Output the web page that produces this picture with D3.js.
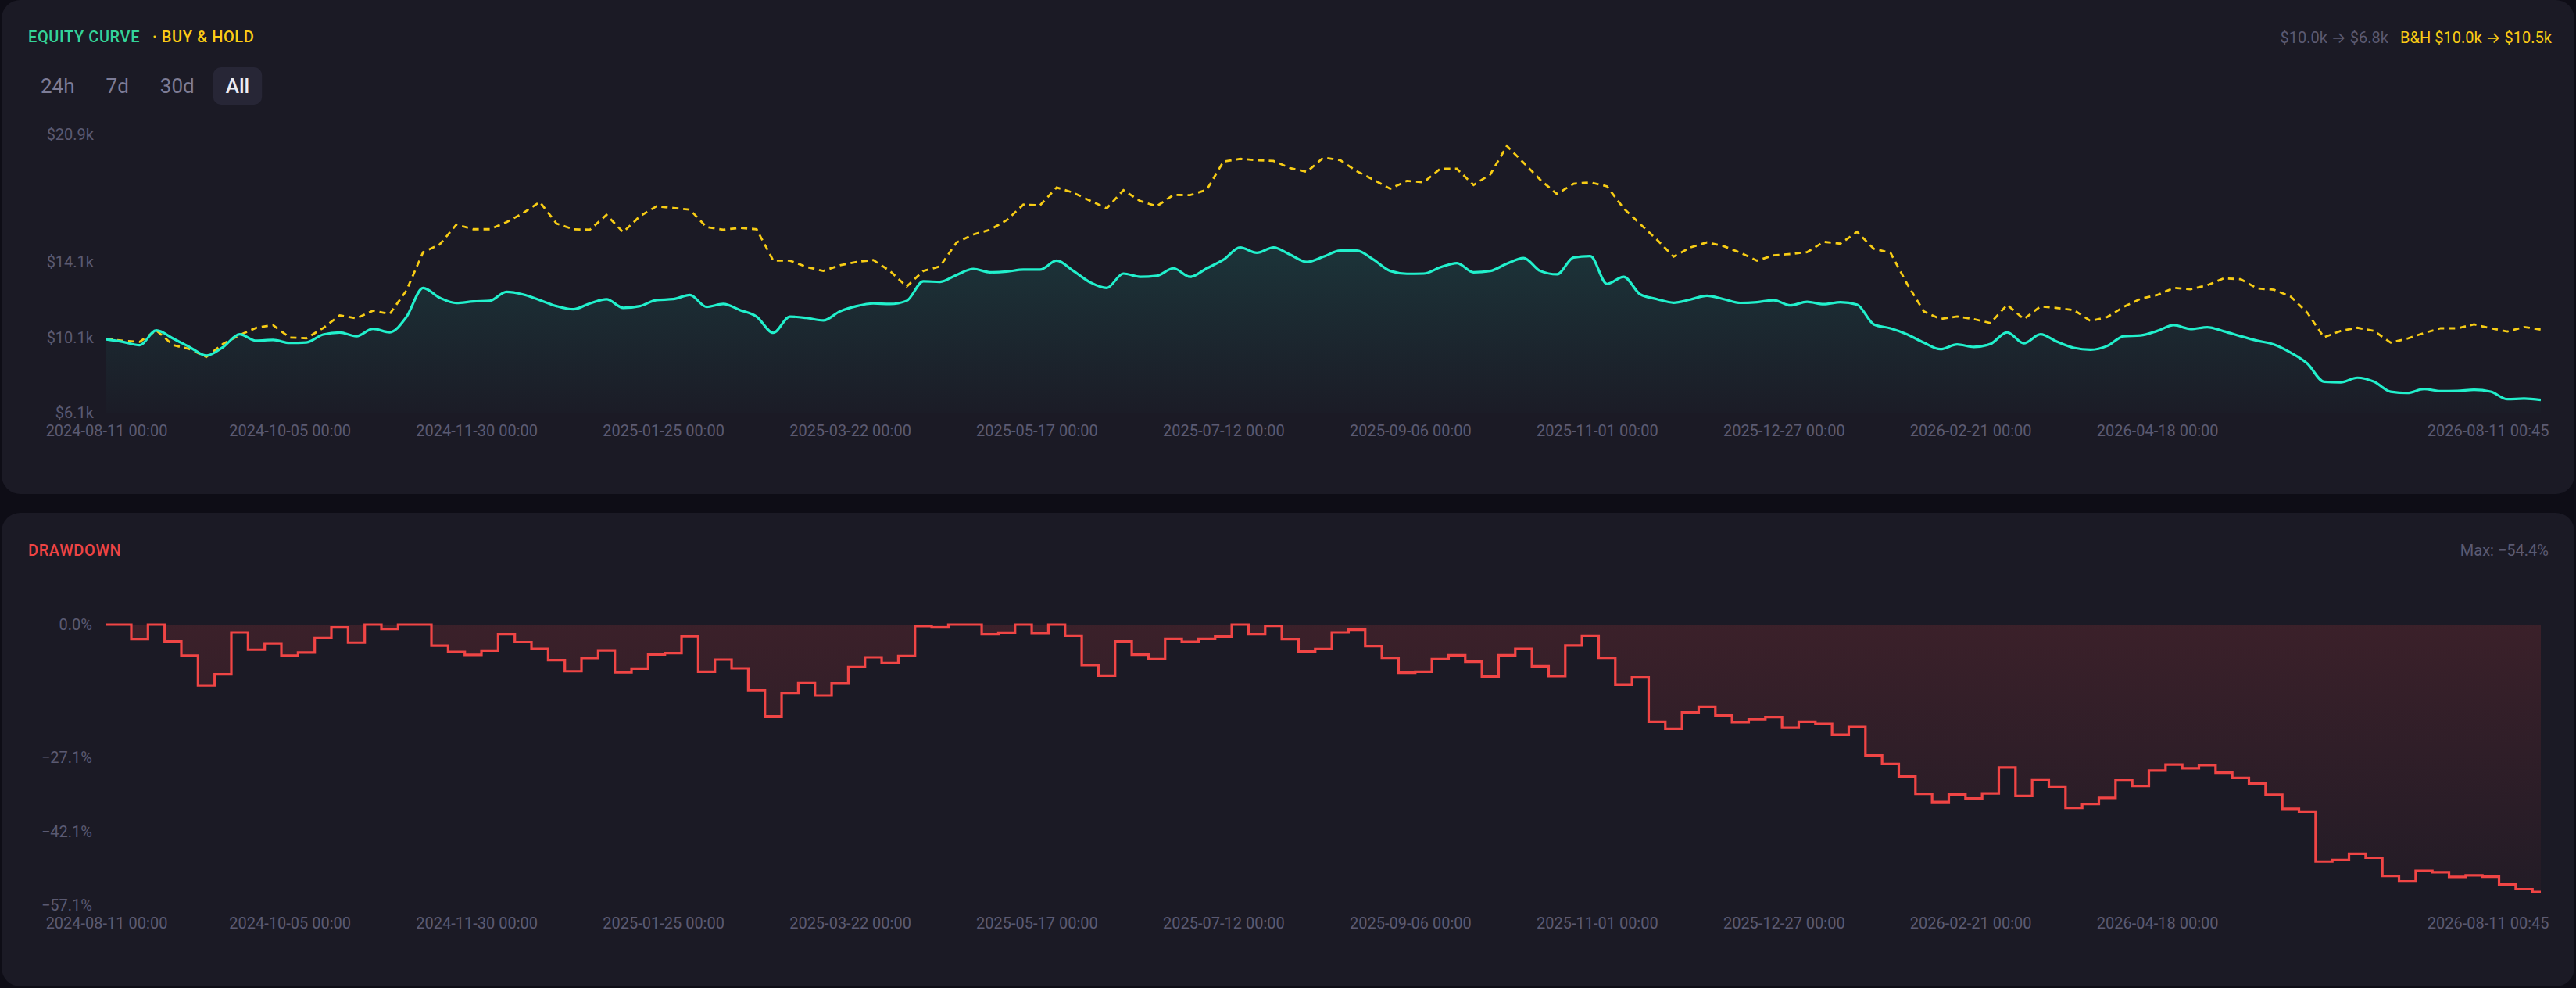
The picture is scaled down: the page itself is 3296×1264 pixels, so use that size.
<!DOCTYPE html>
<html>
<head>
<meta charset="utf-8">
<script src="https://cdn.jsdelivr.net/npm/d3@7"></script>
<style>
  html, body { margin: 0; padding: 0; background: #0e0d16; }
  body { width: 3296px; height: 1264px; overflow: hidden; }
  svg text { font-family: Roboto, "Noto Sans", sans-serif; }
  .tick text { fill: #5b5a72; font-size: 20px; }
  .arrow { font-family: Inter, "DejaVu Sans", sans-serif; }
</style>
</head>
<body>
<svg id="chart"></svg>
<script>
// samples every 5 days from 2024-08-11, last one at 2026-08-11 00:45
const startDate = new Date(2024, 7, 11);
const endDate = new Date(2026, 7, 11, 0, 45);
const stepDays = 5;

// equity in $k
const equity = [
  10.00, 9.87, 9.69, 10.48, 10.05, 9.59, 9.14, 9.59, 10.27, 9.93,
  9.97, 9.81, 9.84, 10.26, 10.37, 10.17, 10.56, 10.38, 11.19, 12.74,
  12.21, 11.93, 12.02, 12.05, 12.53, 12.39, 12.09, 11.77, 11.60, 11.91,
  12.13, 11.68, 11.77, 12.09, 12.14, 12.36, 11.73, 11.88, 11.56, 11.21,
  10.35, 11.21, 11.14, 11.01, 11.49, 11.77, 11.91, 11.88, 12.05, 13.09,
  13.06, 13.43, 13.75, 13.57, 13.61, 13.71, 13.71, 14.19, 13.64, 13.04,
  12.74, 13.50, 13.33, 13.38, 13.78, 13.33, 13.78, 14.24, 14.89, 14.61,
  14.89, 14.51, 14.12, 14.40, 14.72, 14.72, 14.24, 13.64, 13.49, 13.50,
  13.83, 14.06, 13.57, 13.64, 14.03, 14.33, 13.64, 13.46, 14.36, 14.43,
  12.95, 13.33, 12.39, 12.14, 11.95, 12.12, 12.32, 12.14, 11.94, 11.98,
  12.08, 11.81, 12.00, 11.87, 11.98, 11.85, 10.80, 10.59, 10.27, 9.83,
  9.48, 9.73, 9.60, 9.76, 10.38, 9.79, 10.27, 9.87, 9.55, 9.45,
  9.65, 10.17, 10.21, 10.45, 10.76, 10.55, 10.65, 10.43, 10.17, 9.93,
  9.73, 9.30, 8.72, 7.75, 7.72, 7.96, 7.75, 7.22, 7.15, 7.36,
  7.25, 7.26, 7.32, 7.22, 6.82, 6.85, 6.78
];

// buy & hold in $k
const buyHold = [
  10.03, 9.93, 9.87, 10.48, 9.70, 9.48, 9.07, 9.76, 10.23, 10.62,
  10.76, 10.10, 10.06, 10.60, 11.28, 11.12, 11.53, 11.35, 12.60, 14.64,
  15.05, 16.11, 15.86, 15.86, 16.23, 16.72, 17.31, 16.16, 15.86, 15.83,
  16.62, 15.70, 16.55, 17.08, 16.99, 16.90, 15.97, 15.83, 15.93, 15.86,
  14.19, 14.19, 13.85, 13.64, 13.94, 14.12, 14.22, 13.64, 12.81, 13.64,
  13.88, 15.16, 15.58, 15.83, 16.34, 17.17, 17.13, 18.08, 17.80, 17.38,
  16.97, 17.94, 17.36, 17.08, 17.69, 17.67, 17.96, 19.46, 19.60, 19.53,
  19.49, 19.11, 18.91, 19.67, 19.53, 18.94, 18.49, 18.01, 18.43, 18.35,
  19.07, 19.07, 18.21, 18.77, 20.29, 19.39, 18.49, 17.73, 18.28, 18.35,
  18.14, 16.97, 16.13, 15.30, 14.40, 14.89, 15.16, 14.96, 14.61, 14.19,
  14.47, 14.54, 14.64, 15.19, 15.09, 15.72, 14.82, 14.61, 12.95, 11.49,
  11.08, 11.22, 11.08, 10.87, 11.84, 11.08, 11.75, 11.67, 11.56, 10.98,
  11.19, 11.73, 12.16, 12.36, 12.74, 12.67, 12.88, 13.25, 13.20, 12.71,
  12.64, 12.28, 11.42, 10.11, 10.45, 10.62, 10.45, 9.83, 10.04, 10.34,
  10.59, 10.59, 10.80, 10.59, 10.42, 10.66, 10.52
];

// drawdown in %
const drawdown = [
  0, 0, -2.96, 0, -3.45, -6.32, -12.42, -10.12, -1.59, -5.13,
  -3.83, -6.32, -5.70, -2.77, -0.59, -3.70, 0, -0.90, 0, 0,
  -4.33, -5.57, -6.19, -5.32, -2.02, -3.58, -4.95, -7.25, -9.50, -6.82,
  -5.26, -9.72, -8.96, -6.10, -5.83, -2.39, -9.60, -7.16, -8.91, -13.4,
  -18.72, -13.94, -11.82, -14.47, -11.93, -8.64, -6.68, -7.85, -6.42, -0.32,
  -0.58, 0, 0, -2.01, -1.64, 0, -1.75, 0, -2.28, -8.27,
  -10.39, -3.45, -6.15, -7.05, -2.92, -3.50, -2.92, -2.44, 0, -2.01,
  -0.27, -2.97, -5.46, -5.0, -1.59, -1.06, -4.40, -6.78, -9.81, -9.60,
  -7.05, -6.26, -7.58, -10.60, -6.26, -4.93, -8.48, -10.50, -4.29, -2.28,
  -6.78, -12.25, -10.76, -19.78, -21.21, -17.92, -16.75, -18.50, -19.88, -19.25,
  -18.87, -21.00, -19.78, -20.20, -22.43, -20.84, -26.67, -28.37, -30.91, -34.46,
  -36.11, -34.62, -35.42, -34.36, -29.10, -34.89, -31.56, -32.97, -37.33, -36.52,
  -35.28, -31.60, -32.85, -29.73, -28.49, -29.24, -28.61, -30.17, -31.23, -32.35,
  -34.66, -37.52, -38.08, -48.23, -47.92, -46.67, -47.48, -51.15, -52.28, -50.10,
  -50.41, -51.34, -51.04, -51.30, -52.90, -53.84, -54.40
];

const xTickLabels = [
  '2024-08-11 00:00', '2024-10-05 00:00', '2024-11-30 00:00', '2025-01-25 00:00',
  '2025-03-22 00:00', '2025-05-17 00:00', '2025-07-12 00:00', '2025-09-06 00:00',
  '2025-11-01 00:00', '2025-12-27 00:00', '2026-02-21 00:00', '2026-04-18 00:00',
  '2026-08-11 00:45'
];
const equityTicks = [6.1, 10.1, 14.1, 20.9];
const drawdownTicks = [0, -27.1, -42.1, -57.1];
const rangeButtons = ['24h', '7d', '30d', 'All'];

const W = 3296, H = 1264;
const plot = { left: 136, right: 3251 };
const eqBox = { top: 172, bottom: 528 };
const ddBox = { top: 799, bottom: 1158 };

const parseLabel = d3.timeParse('%Y-%m-%d %H:%M');
const fmtLabel = d3.timeFormat('%Y-%m-%d %H:%M');
const fmtK = v => '$' + d3.format('.1f')(v) + 'k';

const dates = equity.map((v, i) =>
  i === equity.length - 1 ? endDate : d3.timeDay.offset(startDate, i * stepDays));

const svg = d3.select('#chart').attr('width', W).attr('height', H);

// panels
svg.append('rect').attr('x', 2).attr('y', 0).attr('width', W - 4).attr('height', 632)
   .attr('rx', 24).attr('fill', '#1b1a25');
svg.append('rect').attr('x', 2).attr('y', 656).attr('width', W - 4).attr('height', 606)
   .attr('rx', 24).attr('fill', '#1b1a25');

const defs = svg.append('defs');

const x = d3.scaleTime().domain([startDate, endDate]).range([plot.left, plot.right]);
const yEq = d3.scaleLinear().domain([6.1, 20.9]).range([eqBox.bottom, eqBox.top]);
const yDd = d3.scaleLinear().domain([-57.1, 0]).range([ddBox.bottom, ddBox.top]);

// ---------- equity panel ----------
svg.append('text').attr('x', 36).attr('y', 54)
   .attr('font-size', 20).attr('font-weight', 500).attr('letter-spacing', 0.6)
   .attr('fill', '#34d399').text('EQUITY CURVE');
svg.append('text').attr('x', 195).attr('y', 54)
   .attr('font-size', 20).attr('font-weight', 500).attr('letter-spacing', 0.6)
   .attr('fill', '#facc15').text('· BUY & HOLD');

// start -> end summaries, arrow in a font that draws it full size
function summary(xPos, prefix, from, to, color) {
    var t = svg.append('text').attr('x', xPos).attr('y', 55).attr('text-anchor', 'end')
               .attr('font-size', 20).attr('fill', color);
    t.append('tspan').text(prefix + fmtK(from) + ' ');
    t.append('tspan').attr('class', 'arrow').text('→');
    t.append('tspan').text(' ' + fmtK(to));
}
summary(3265, 'B&H ', buyHold[0], buyHold[buyHold.length - 1], '#facc15');
summary(3056, '', equity[0], equity[equity.length - 1], '#5b5a72');

// range buttons
var bx = 36;
rangeButtons.forEach(function(label, i) {
    var active = i === rangeButtons.length - 1;
    var g = svg.append('g');
    var bg = g.append('rect');
    var t = g.append('text').attr('y', 118.5).attr('font-size', 26)
             .attr('font-weight', active ? 500 : 400)
             .attr('fill', active ? '#ececf4' : '#7d7c96').text(label);
    var w = t.node().getComputedTextLength() + 32;
    t.attr('x', bx + 16);
    bg.attr('x', bx).attr('y', 86).attr('width', w).attr('height', 48).attr('rx', 10)
      .attr('fill', active ? '#272636' : 'none');
    bx += w + 8;
});

const eqGrad = defs.append('linearGradient').attr('id', 'eqFill')
    .attr('gradientUnits', 'userSpaceOnUse')
    .attr('x1', 0).attr('x2', 0).attr('y1', yEq(15)).attr('y2', eqBox.bottom);
eqGrad.append('stop').attr('offset', 0).attr('stop-color', '#22f0cc').attr('stop-opacity', 0.12);
eqGrad.append('stop').attr('offset', 1).attr('stop-color', '#22f0cc').attr('stop-opacity', 0.01);

const eqArea = d3.area().curve(d3.curveMonotoneX)
    .x((d, i) => x(dates[i])).y0(eqBox.bottom).y1(d => yEq(d));
const eqLine = d3.line().curve(d3.curveMonotoneX)
    .x((d, i) => x(dates[i])).y(d => yEq(d));
const bhLine = d3.line()
    .x((d, i) => x(dates[i])).y(d => yEq(d));

svg.append('path').attr('d', eqArea(equity)).attr('fill', 'url(#eqFill)');
svg.append('path').attr('d', bhLine(buyHold)).attr('fill', 'none')
   .attr('stroke', '#f7cc15').attr('stroke-width', 2.8).attr('stroke-dasharray', '8 6');
svg.append('path').attr('d', eqLine(equity)).attr('fill', 'none')
   .attr('stroke', '#22f0cc').attr('stroke-width', 3.2).attr('stroke-linejoin', 'round');

svg.append('g').attr('transform', `translate(${plot.left},0)`)
   .call(d3.axisLeft(yEq).tickValues(equityTicks).tickSize(0).tickPadding(16)
           .tickFormat(fmtK))
   .call(g => g.select('.domain').remove());

function xAxis(g) {
    g.call(d3.axisBottom(x).tickValues(xTickLabels.map(parseLabel))
             .tickSize(0).tickPadding(16).tickFormat(fmtLabel))
     .call(g => g.select('.domain').remove());
    g.selectAll('.tick text').filter((d, i) => i === xTickLabels.length - 1)
     .attr('text-anchor', 'end').attr('x', 10);
}

svg.append('g').attr('transform', `translate(0,${eqBox.bottom})`).call(xAxis);

// ---------- drawdown panel ----------
svg.append('text').attr('x', 36).attr('y', 711)
   .attr('font-size', 20).attr('font-weight', 500).attr('letter-spacing', 0.6)
   .attr('fill', '#ef4444').text('DRAWDOWN');
svg.append('text').attr('x', 3261).attr('y', 711).attr('text-anchor', 'end')
   .attr('font-size', 20).attr('fill', '#5b5a72')
   .text('Max: ' + d3.format('.1f')(d3.min(drawdown)) + '%');

const ddGrad = defs.append('linearGradient').attr('id', 'ddFill')
    .attr('gradientUnits', 'userSpaceOnUse')
    .attr('x1', 0).attr('x2', 0).attr('y1', ddBox.top).attr('y2', ddBox.bottom);
ddGrad.append('stop').attr('offset', 0).attr('stop-color', '#ef4444').attr('stop-opacity', 0.15);
ddGrad.append('stop').attr('offset', 1).attr('stop-color', '#ef4444').attr('stop-opacity', 0.03);

const ddArea = d3.area().curve(d3.curveStep)
    .x((d, i) => x(dates[i])).y0(yDd(0)).y1(d => yDd(d));
const ddLine = d3.line().curve(d3.curveStep)
    .x((d, i) => x(dates[i])).y(d => yDd(d));

svg.append('path').attr('d', ddArea(drawdown)).attr('fill', 'url(#ddFill)');
svg.append('path').attr('d', ddLine(drawdown)).attr('fill', 'none')
   .attr('stroke', '#f04545').attr('stroke-width', 3.2);

svg.append('g').attr('transform', `translate(${plot.left - 2},0)`)
   .call(d3.axisLeft(yDd).tickValues(drawdownTicks).tickSize(0).tickPadding(16)
           .tickFormat(d => d3.format('.1f')(d) + '%'))
   .call(g => g.select('.domain').remove());

svg.append('g').attr('transform', `translate(0,${ddBox.bottom})`).call(xAxis);
</script>
</body>
</html>
